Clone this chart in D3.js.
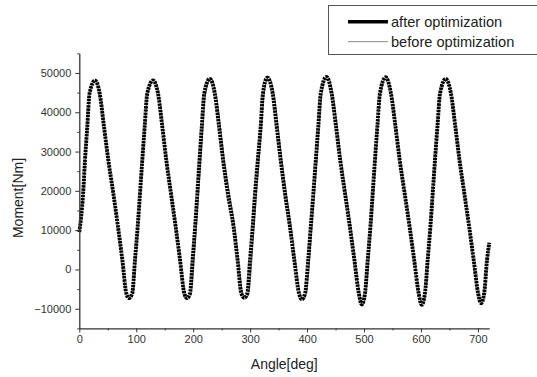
<!DOCTYPE html>
<html>
<head>
<meta charset="utf-8">
<script src="https://cdn.jsdelivr.net/npm/d3@7/dist/d3.min.js"></script>
<style>
  body { margin: 0; background: #fff; }
  svg { display: block; font-family: "Liberation Sans", Arial, sans-serif; }
  .tick text { fill: #333; }
</style>
</head>
<body>
<div id="chart"></div>
<script>
// angle [deg] / moment [Nm], after optimization
var afterAngle = [0, 6.7, 10, 14, 18, 27.6,
    35.8, 43.4, 51, 59.8, 68, 75.6, 82.6, 87.3,
    93, 97.8, 102.5, 106.6, 110.6, 114.8, 119.4, 129.4,
    138.2, 145.8, 152.8, 161, 169.3, 176.9, 184.4, 189,
    194.4, 199, 203.4, 207.3, 211.1, 215.1, 219.5, 229,
    237.9, 245.5, 252.6, 260.9, 271, 278, 284.5, 289.5,
    295, 299.8, 304.5, 308.6, 313.5, 318.5, 322.5, 330,
    339.6, 346.7, 353.7, 361.3, 370, 377.6, 385.8, 390.6,
    396.5, 402, 406.5, 411, 415.3, 419.7, 424, 434,
    443.1, 450.9, 458.2, 466.7, 475.2, 483.1, 490.9, 496,
    501.7, 506.5, 511.2, 515.2, 519.2, 523.4, 528, 538,
    547.3, 555.3, 562.7, 571.4, 580.1, 588.1, 596, 601.3,
    607, 611.8, 616.5, 620.6, 624.6, 628.9, 633.5, 643.5,
    652.6, 660.4, 667.7, 676.2, 684.7, 692.6, 700.4, 705.5,
    711, 716, 720];
var afterMoment = [9500, 19300, 27800, 36300, 44800, 48100,
    44800, 36300, 27800, 19300, 10800, 2400, -6100, -7300,
    -6100, 2400, 10800, 19300, 27800, 36300, 44800, 48100,
    44800, 36300, 27800, 19300, 10800, 2400, -6100, -7300,
    -6100, 2400, 10800, 19300, 27800, 36300, 44800, 48500,
    44800, 36300, 27800, 19300, 10800, 2400, -6100, -7200,
    -6100, 2400, 10800, 19300, 27800, 36300, 44800, 48800,
    44800, 36300, 27800, 19300, 10800, 2400, -6100, -7600,
    -6100, 2400, 10800, 19300, 27800, 36300, 44800, 49000,
    44800, 36300, 27800, 19300, 10800, 2400, -6100, -8900,
    -6100, 2400, 10800, 19300, 27800, 36300, 44800, 48900,
    44800, 36300, 27800, 19300, 10800, 2400, -6100, -9000,
    -6100, 2400, 10800, 19300, 27800, 36300, 44800, 48500,
    44800, 36300, 27800, 19300, 10800, 2400, -6100, -8600,
    -6100, 2400, 6800];

// before optimization (thin grey line, mostly hidden under the dots)
var beforeAngle = [0, 6.7, 14, 18, 27.6,
    35.8, 51, 68, 82.6, 87.8,
    93.8, 103.3, 111.4, 120.2, 130.2,
    139.2, 153.8, 170.3, 185.6, 190.5,
    196.2, 205.6, 213.4, 221.8, 231.2,
    240, 254.8, 273, 287, 292,
    297.6, 307, 315.8, 324.8, 332.4,
    341.8, 355.8, 372, 388, 393,
    398.6, 408.5, 417.3, 426, 436,
    445, 460, 477, 492.5, 497.8,
    503, 512.5, 520.5, 529.2, 539,
    548.3, 563.7, 581, 597, 602.3,
    607.6, 617, 625.2, 634, 644,
    653, 668, 685, 700.6, 705.7,
    711.2, 716.2, 720];
var beforeMoment = [9500, 19300, 36300, 44800, 48000,
    44800, 27800, 10800, -6100, -7400,
    -6100, 10800, 27800, 44800, 48200,
    44800, 27800, 10800, -6100, -7600,
    -6100, 10800, 27800, 44800, 48700,
    44800, 27800, 10800, -6100, -7500,
    -6100, 10800, 27800, 44800, 49100,
    44800, 27800, 10800, -6100, -7800,
    -6100, 10800, 27800, 44800, 49300,
    44800, 27800, 10800, -6100, -8900,
    -6100, 10800, 27800, 44800, 49000,
    44800, 27800, 10800, -6100, -9100,
    -6100, 10800, 27800, 44800, 48600,
    44800, 27800, 10800, -6100, -8700,
    -6100, 2400, 6800];

var xMajor = [0, 100, 200, 300, 400, 500, 600, 700];
var xMinor = [50, 150, 250, 350, 450, 550, 650];
var yMajor = [-10000, 0, 10000, 20000, 30000, 40000, 50000];
var yMinor = [-15000, -5000, 5000, 15000, 25000, 35000, 45000, 55000];
var legendLabels = ["after optimization", "before optimization"];

var x = d3.scaleLinear().domain([0, 720]).range([79.3, 489.3]);
var y = d3.scaleLinear().domain([-15000, 55000]).range([328.4, 53.3]);

var svg = d3.select("#chart").append("svg")
    .attr("width", 537)
    .attr("height", 377);

var afterData = afterAngle.map(function(a, i) { return [a, afterMoment[i]]; });
var beforeData = beforeAngle.map(function(a, i) { return [a, beforeMoment[i]]; });

var line = d3.line()
    .x(function(d) { return x(d[0]); })
    .y(function(d) { return y(d[1]); })
    .curve(d3.curveMonotoneX);

// grey line underneath
svg.append("path")
    .datum(beforeData)
    .attr("d", line)
    .attr("fill", "none")
    .attr("stroke", "#8c8c8c")
    .attr("stroke-width", 1.1);

// thick dotted trace (dense square markers in the original)
svg.append("path")
    .datum(afterData)
    .attr("d", line)
    .attr("fill", "none")
    .attr("stroke", "#000")
    .attr("stroke-width", 3.9)
    .attr("stroke-dasharray", "2.4,0.8");

// x axis
svg.append("g")
    .attr("transform", "translate(0,328.4)")
    .call(d3.axisBottom(x).tickValues(xMajor).tickSize(4).tickSizeOuter(0).tickPadding(3))
    .call(function(g) {
        g.select(".domain").attr("stroke", "#333").attr("stroke-width", 1.3);
        g.selectAll(".tick line").attr("stroke", "#333");
        g.selectAll(".tick text").style("font-size", "11px");
    });
svg.append("g")
    .attr("transform", "translate(0,328.4)")
    .call(d3.axisBottom(x).tickValues(xMinor).tickSize(2).tickFormat(""))
    .call(function(g) {
        g.select(".domain").remove();
        g.selectAll(".tick line").attr("stroke", "#333");
    });

// y axis
svg.append("g")
    .attr("transform", "translate(79.3,0)")
    .call(d3.axisLeft(y).tickValues(yMajor).tickSize(4).tickSizeOuter(0).tickPadding(4).tickFormat(d3.format("d")))
    .call(function(g) {
        g.select(".domain").attr("stroke", "#333").attr("stroke-width", 1.3);
        g.selectAll(".tick line").attr("stroke", "#333");
        g.selectAll(".tick text").style("font-size", "11px");
    });
svg.append("g")
    .attr("transform", "translate(79.3,0)")
    .call(d3.axisLeft(y).tickValues(yMinor).tickSize(2).tickFormat(""))
    .call(function(g) {
        g.select(".domain").remove();
        g.selectAll(".tick line").attr("stroke", "#333");
    });

// axis titles
svg.append("text")
    .attr("x", 284.3)
    .attr("y", 369)
    .attr("text-anchor", "middle")
    .style("font-size", "14px")
    .attr("fill", "#222")
    .text("Angle[deg]");

svg.append("text")
    .attr("transform", "translate(23,198) rotate(-90)")
    .attr("text-anchor", "middle")
    .style("font-size", "14px")
    .attr("fill", "#222")
    .text("Moment[Nm]");

// legend box
svg.append("rect")
    .attr("x", 328.5)
    .attr("y", 5.5)
    .attr("width", 215)
    .attr("height", 49)
    .attr("fill", "#fff")
    .attr("stroke", "#555")
    .attr("stroke-width", 1);

var legendStyle = [{w: 3.5, c: "#000"}, {w: 1, c: "#8c8c8c"}];
legendLabels.forEach(function(label, i) {
    var ly = 21.7 + i * 20;
    svg.append("line")
        .attr("x1", 348).attr("x2", 388)
        .attr("y1", ly).attr("y2", ly)
        .attr("stroke", legendStyle[i].c)
        .attr("stroke-width", legendStyle[i].w);
    svg.append("text")
        .attr("x", 391)
        .attr("y", ly + 5)
        .style("font-size", "14.6px")
        .attr("fill", "#222")
        .text(label);
});
</script>
</body>
</html>
